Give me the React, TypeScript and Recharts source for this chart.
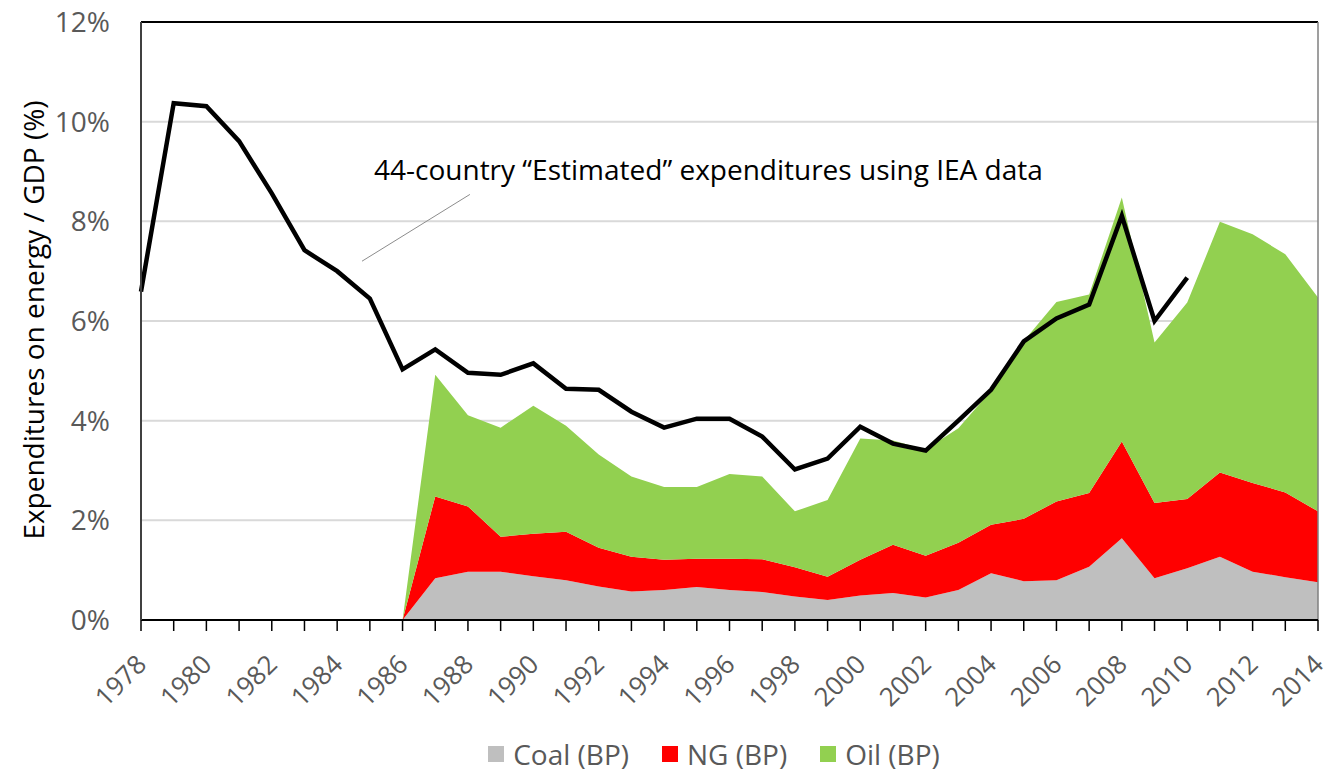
import React from 'react';
import {
  ComposedChart,
  Area,
  Line,
  XAxis,
  YAxis,
  CartesianGrid,
  ReferenceLine,
} from 'recharts';

const years = [
  1978, 1979, 1980, 1981, 1982, 1983, 1984, 1985, 1986, 1987, 1988, 1989,
  1990, 1991, 1992, 1993, 1994, 1995, 1996, 1997, 1998, 1999, 2000, 2001,
  2002, 2003, 2004, 2005, 2006, 2007, 2008, 2009, 2010, 2011, 2012, 2013, 2014,
];

// 44-country estimated expenditures (IEA), % of GDP
const estimated = [
  6.59, 10.37, 10.31, 9.61, 8.56, 7.42, 7.0, 6.45, 5.03, 5.43, 4.96, 4.92,
  5.15, 4.64, 4.62, 4.18, 3.86, 4.04, 4.04, 3.68, 3.02, 3.24, 3.88, 3.54,
  3.4, 4.0, 4.62, 5.59, 6.05, 6.33, 8.11, 6.0, 6.87, null, null, null, null,
];

// BP-based components, % of GDP (stacked)
const coal = [
  null, null, null, null, null, null, null, null, 0, 0.84, 0.97, 0.97,
  0.88, 0.8, 0.67, 0.57, 0.6, 0.66, 0.6, 0.56, 0.47, 0.4, 0.49, 0.54,
  0.45, 0.6, 0.94, 0.78, 0.8, 1.07, 1.64, 0.84, 1.04, 1.27, 0.97, 0.86, 0.76,
];
const ng = [
  null, null, null, null, null, null, null, null, 0, 1.64, 1.31, 0.7,
  0.85, 0.97, 0.78, 0.7, 0.61, 0.57, 0.63, 0.66, 0.59, 0.47, 0.72, 0.97,
  0.84, 0.95, 0.97, 1.25, 1.58, 1.48, 1.94, 1.51, 1.39, 1.69, 1.78, 1.7, 1.42,
];
const oil = [
  null, null, null, null, null, null, null, null, 0, 2.44, 1.83, 2.19,
  2.57, 2.13, 1.87, 1.61, 1.46, 1.44, 1.7, 1.66, 1.12, 1.54, 2.43, 2.09,
  2.13, 2.3, 2.69, 3.57, 4.0, 3.98, 4.9, 3.22, 3.94, 5.03, 4.99, 4.78, 4.29,
];

const yTicks = [0, 2, 4, 6, 8, 10, 12];
const xLabelYears = years.filter((y) => y % 2 === 0);

const series = [
  { key: 'coal', name: 'Coal (BP)', color: '#bfbfbf' },
  { key: 'ng', name: 'NG (BP)', color: '#ff0000' },
  { key: 'oil', name: 'Oil (BP)', color: '#92d050' },
];

const data = years.map((year, i) => ({
  year,
  estimated: estimated[i],
  coal: coal[i],
  ng: ng[i],
  oil: oil[i],
}));

const FONT = '"Open Sans", "Noto Sans", sans-serif';

const XTick = (props: any) => {
  const { x, y, payload } = props;
  if (!xLabelYears.includes(payload.value)) return null;
  const ax = x + 7;
  const ay = y + 33;
  return (
    <text
      x={ax}
      y={ay}
      textAnchor="end"
      fill="#595959"
      fontSize={26}
      fontFamily={FONT}
      transform={`rotate(-45 ${ax} ${ay})`}
    >
      {payload.value}
    </text>
  );
};

export default function App() {
  return (
    <div style={{ position: 'absolute', left: 0, top: 0, width: 1338, height: 776, background: '#fff', fontFamily: FONT }}>
      <ComposedChart
        width={1338}
        height={776}
        data={data}
        margin={{ top: 22, right: 20, left: 61, bottom: 0 }}
      >
        <CartesianGrid vertical={false} stroke="#d9d9d9" strokeWidth={2} />
        <XAxis
          dataKey="year"
          type="number"
          domain={[1978, 2014]}
          ticks={years}
          interval={0}
          height={156}
          tickSize={11}
          tickMargin={2}
          tickLine={{ stroke: '#000', strokeWidth: 1.5 }}
          axisLine={{ stroke: '#000', strokeWidth: 2 }}
          tick={<XTick />}
        />
        <YAxis
          domain={[0, 12]}
          ticks={yTicks}
          width={80}
          tickSize={0}
          tickMargin={31}
          tickLine={false}
          axisLine={{ stroke: '#404040', strokeWidth: 2 }}
          tickFormatter={(v: number) => `${v}%`}
          tick={{ fill: '#595959', fontSize: 28, fontFamily: FONT }}
        />
        {series.map((s) => (
          <Area
            key={s.key}
            dataKey={s.key}
            name={s.name}
            stackId="bp"
            type="linear"
            fill={s.color}
            fillOpacity={1}
            stroke="none"
            isAnimationActive={false}
          />
        ))}
        <Line
          dataKey="estimated"
          type="linear"
          stroke="#000"
          strokeWidth={4.5}
          dot={false}
          isAnimationActive={false}
        />
        <ReferenceLine y={12} stroke="#000" strokeWidth={2} />
        <ReferenceLine x={2014} stroke="#7f7f7f" strokeWidth={1.5} />
        <ReferenceLine
          segment={[
            { x: 1984.76, y: 7.2 },
            { x: 1988.06, y: 8.54 },
          ]}
          stroke="#8c8c8c"
          strokeWidth={1}
          ifOverflow="visible"
        />
      </ComposedChart>

      <div
        style={{
          position: 'absolute',
          left: 374,
          top: 150,
          fontSize: 28,
          lineHeight: '38px',
          color: '#000',
          whiteSpace: 'nowrap',
        }}
      >
        44-country “Estimated” expenditures using IEA data
      </div>

      <div
        style={{
          position: 'absolute',
          left: 33,
          top: 320,
          transform: 'translate(-50%, -50%) rotate(-90deg)',
          fontSize: 28,
          color: '#000',
          whiteSpace: 'nowrap',
        }}
      >
        Expenditures on energy / GDP (%)
      </div>

      <div
        style={{
          position: 'absolute',
          left: 0,
          width: 1338,
          top: 734,
          height: 40,
          display: 'flex',
          justifyContent: 'center',
          alignItems: 'center',
          gap: 33,
          fontSize: 28,
          color: '#595959',
          paddingLeft: 90,
          boxSizing: 'border-box',
        }}
      >
        {series.map((s) => (
          <div key={s.key} style={{ display: 'flex', alignItems: 'center', gap: 9 }}>
            <span style={{ display: 'inline-block', width: 16, height: 16, background: s.color }} />
            <span>{s.name}</span>
          </div>
        ))}
      </div>
    </div>
  );
}
